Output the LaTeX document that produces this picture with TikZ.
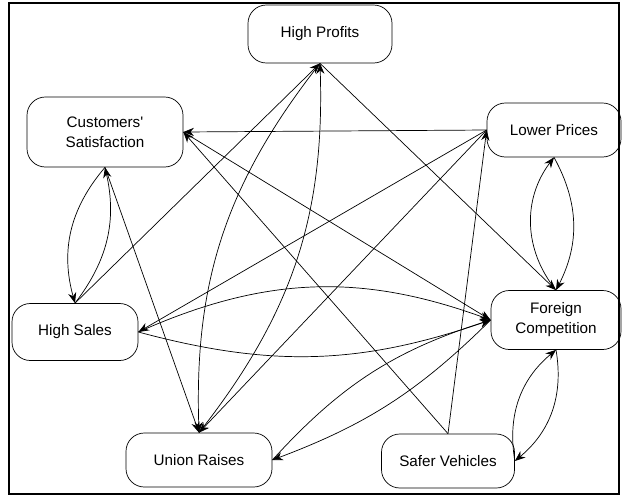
\documentclass[tikz,border=0pt]{standalone}
\usepackage{fontspec}
\setmainfont[Ligatures=TeXOff]{Liberation Sans}
\usetikzlibrary{arrows.meta}

\begin{document}
\begin{tikzpicture}[x=0.03cm, y=-0.03cm, >={Stealth[length=9pt,width=7pt]}, line width=0.6pt,
		every node/.style={font=\fontsize{13}{17}\selectfont}]
		\tikzstyle{factor}=[draw, rounded corners=0.55cm, align=center, inner sep=2pt]
		
		\useasboundingbox (0,0) rectangle (623,495);
		\draw[line width=1pt] (9,3) rectangle (619,494);
		
		\node[factor, minimum width=4.32cm, minimum height=1.74cm] (hp) at (320,34)  {High Profits};
		\node[factor, minimum width=4.68cm, minimum height=2.10cm] (cs) at (105,132) {Customers'\\Satisfaction};
		\node[factor, minimum width=4.02cm, minimum height=1.62cm] (lp) at (554,130) {Lower Prices};
		\node[factor, minimum width=3.78cm, minimum height=1.71cm] (hs) at (75,332)  {High Sales};
		\node[factor, minimum width=3.90cm, minimum height=1.77cm] (fc) at (556,320) {Foreign\\Competition};
		\node[factor, minimum width=4.38cm, minimum height=1.62cm] (ur) at (199,460) {Union Raises};
		\node[factor, minimum width=3.99cm, minimum height=1.62cm] (sv) at (448,461) {Safer Vehicles};
		
		\path[->]
		(lp.west)  edge (cs.east)
		(sv.north) edge (cs.east)
		(cs.east)  edge (fc.west)
		
		(cs.south) edge [bend right=28] (hs.north)
		(hs.north) edge [bend right=25] (cs.south)
		(cs.south) edge (ur.north)
		
		(hs.north) edge (hp.south)
		(hp.south) edge [bend right=20] (ur.north)
		(ur.north) edge [bend right=20] (hp.south)
		(hp.south) edge (fc.north)
		
		(lp.west)  edge (hs.east)
		(lp.west)  edge (ur.north)
		(sv.north) edge (lp.west)
		(fc.north) edge [bend left=38] (lp.south)
		(lp.south) edge [bend left=28] (fc.north)
		
		(hs.east)  edge [bend left=22]  (fc.west)
		(hs.east)  edge [bend right=17] (fc.west)
		(ur.east)  edge [bend left=15]  (fc.west)
		(fc.west)  edge [bend left=12]  (ur.east)
		
		(sv.east)  edge [bend left=30] (fc.south)
		(fc.south) edge [bend left=30] (sv.east)
		;
\end{tikzpicture}
\end{document}
